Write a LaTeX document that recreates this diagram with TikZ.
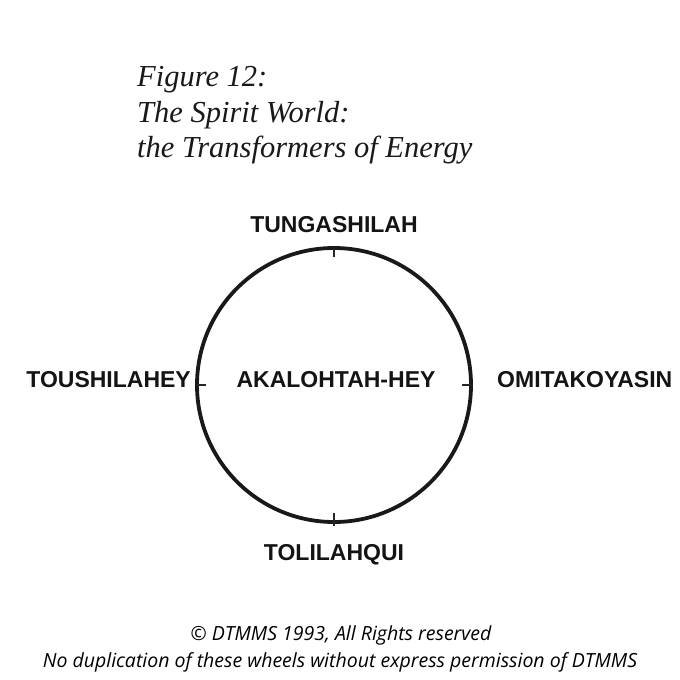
\documentclass[tikz,border=0pt]{standalone}
\usepackage{fontspec}
\setmainfont{Liberation Serif}
\newfontfamily\labelfont{Liberation Sans}
\newfontfamily\notefont{Open Sans}
\tikzset{
  title/.style={anchor=base west, inner sep=0pt, font=\fontsize{30.5}{30.5}\selectfont\itshape, text=black!90},
  lab/.style={anchor=base, inner sep=0pt, font=\labelfont\bfseries\fontsize{23}{23}\selectfont, text=black!92},
  note/.style={anchor=base, inner sep=0pt, font=\notefont\itshape\fontsize{19.5}{19.5}\selectfont, text=black},
  wheelline/.style={line width=3.8pt, draw=black!90},
  tickline/.style={line width=1.5pt, draw=black!85},
}
\begin{document}
\begin{tikzpicture}[x=1pt,y=-1pt]
\useasboundingbox[fill=white] (0,0) rectangle (680,680);
\node[title] (t1) at (137,86) {Figure 12:};
\node[title] (t2) at (137,122) {The Spirit World:};
\node[title] (t3) at (137,157) {the Transformers of Energy};
\node[circle, wheelline, minimum size=274pt, inner sep=0pt, outer sep=0pt] (wheel) at (334,385) {};
\draw[tickline] (wheel.north) -- ++(0,9);
\draw[tickline] (wheel.south) ++(0,4) -- ++(0,-13);
\draw[tickline] (wheel.west) -- ++(9,0);
\draw[tickline] (wheel.east) -- ++(-9,0);
\node[lab] (n) at (334,232) {TUNGASHILAH};
\node[lab] (s) at (334,560) {TOLILAHQUI};
\node[lab, anchor=base east] (w) at (191,387) {TOUSHILAHEY};
\node[lab, anchor=base west] (e) at (497,387) {OMITAKOYASIN};
\node[lab] (c) at (336,387) {AKALOHTAH-HEY};
\node[note] (c1) at (341,640) {\textcopyright{} DTMMS 1993, All Rights reserved};
\node[note] (c2) at (340,667) {No duplication of these wheels without express permission of DTMMS};
\end{tikzpicture}
\end{document}
